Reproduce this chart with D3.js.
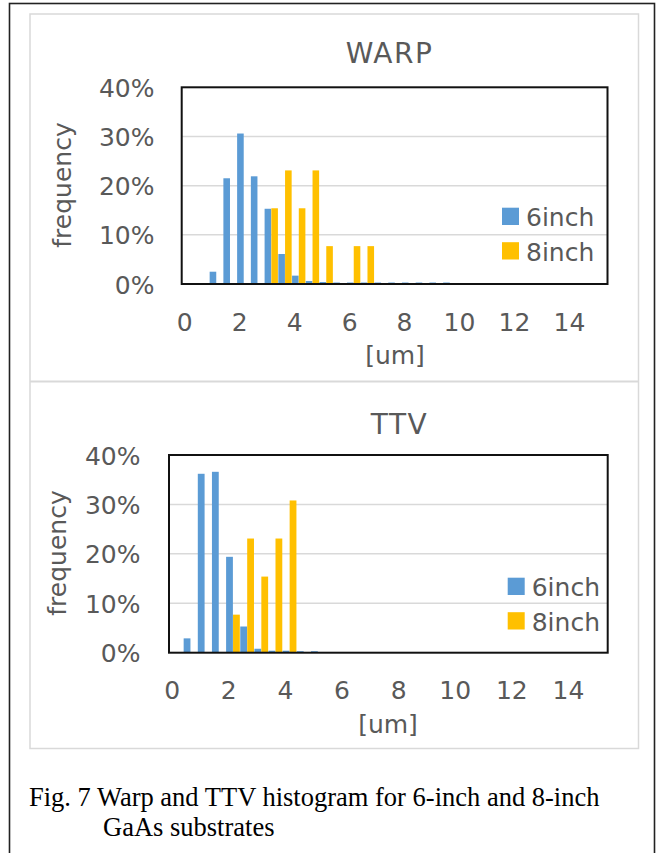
<!DOCTYPE html>
<html>
<head>
<meta charset="utf-8">
<script src="https://cdn.jsdelivr.net/npm/d3@7"></script>
<style>
  html, body { margin: 0; padding: 0; background: #fff; }
  svg { display: block; }
  .tick text { font-family: "DejaVu Sans", Verdana, sans-serif; }
</style>
</head>
<body>
<svg id="fig" width="658" height="853"></svg>
<script>
// Histogram bins (um), bin width 0.5
const binWidth = 0.5;
const seriesNames = ["6inch", "8inch"];
const seriesColors = ["#5B9BD5", "#FFC000"];
const xTickValues = [0, 2, 4, 6, 8, 10, 12, 14];
const yTickValues = [0, 0.1, 0.2, 0.3, 0.4];

// WARP distribution (frequency in %)
const warpBins = [1.0, 1.5, 2.0, 2.5, 3.0, 3.5, 4.0, 4.5, 5.0, 5.5, 6.0, 6.5, 7.0, 7.5, 8.0, 8.5, 9.0, 9.5];
const warp6inch = [2.5, 21.5, 30.6, 21.9, 15.3, 6.1, 1.7, 0.6, 0.4, 0.3, 0.3, 0.3, 0.3, 0.3, 0.3, 0.3, 0.3, 0.3];
const warp8inch = [0, 0, 0, 0, 15.4, 23.1, 15.4, 23.1, 7.7, 0, 7.7, 7.7, 0, 0, 0, 0, 0, 0];

// TTV distribution (frequency in %)
const ttvBins = [0.5, 1.0, 1.5, 2.0, 2.5, 3.0, 3.5, 4.0, 4.5, 5.0];
const ttv6inch = [2.9, 36.2, 36.6, 19.4, 5.3, 0.8, 0.4, 0.4, 0.3, 0.3];
const ttv8inch = [0, 0, 0, 7.7, 23.1, 15.4, 23.1, 30.8, 0, 0];

const FONT = "'DejaVu Sans', Verdana, sans-serif";
const TEXT = "#595959";

const svg = d3.select("#fig");

// outer page frame
svg.append("rect")
  .attr("x", 9.5).attr("y", 3.5).attr("width", 645).attr("height", 870)
  .attr("fill", "none").attr("stroke", "#222").attr("stroke-width", 1.6);

// chart containers
svg.append("rect")
  .attr("x", 30).attr("y", 14).attr("width", 608.5).attr("height", 734.5)
  .attr("fill", "#fff").attr("stroke", "#d9d9d9").attr("stroke-width", 1.5);
svg.append("line")
  .attr("x1", 30).attr("x2", 638.5).attr("y1", 381.5).attr("y2", 381.5)
  .attr("stroke", "#d9d9d9").attr("stroke-width", 2);

function drawChart(cfg) {
  const { left, right, top, bottom } = cfg.plot;
  const x = d3.scaleLinear().domain([-0.095, 15.405]).range([left, right]);
  const y = d3.scaleLinear().domain([0, 0.4]).range([bottom, top]);

  // clustered columns: pair of bars per bin, centred slightly right of the bin value
  const pairOffset = 0.165;
  const pairSpan = binWidth * 0.97;
  const sub = d3.scaleBand().domain(seriesNames)
    .range([0, x(pairSpan) - x(0)]).paddingInner(0.02);

  const g = svg.append("g");

  // gridlines
  g.append("g").selectAll("line")
    .data(yTickValues.filter(v => v > 0 && v < 0.4))
    .join("line")
    .attr("x1", left).attr("x2", right)
    .attr("y1", d => y(d)).attr("y2", d => y(d))
    .attr("stroke", "#d9d9d9").attr("stroke-width", 1.5);

  // bars
  const rows = cfg.bins.map((b, i) => ({ bin: b, values: [cfg.s6[i], cfg.s8[i]] }));
  const bars = [];
  rows.forEach(r => r.values.forEach((v, k) => {
    if (v > 0) bars.push({ bin: r.bin, series: seriesNames[k], value: v / 100, k });
  }));
  g.append("g").selectAll("rect")
    .data(bars)
    .join("rect")
    .attr("x", d => x(d.bin + pairOffset - pairSpan / 2) + sub(d.series))
    .attr("width", sub.bandwidth())
    .attr("y", d => y(d.value))
    .attr("height", d => y(0) - y(d.value))
    .attr("fill", d => seriesColors[d.k]);

  // plot frame
  g.append("rect")
    .attr("x", left).attr("y", top)
    .attr("width", right - left).attr("height", bottom - top)
    .attr("fill", "none").attr("stroke", "#111").attr("stroke-width", 2);

  // y axis
  const yAxis = g.append("g")
    .attr("transform", `translate(${cfg.yLabelRight},0)`)
    .call(d3.axisLeft(y).tickValues(yTickValues).tickFormat(d3.format(".0%")).tickSize(0).tickPadding(0));
  yAxis.select(".domain").remove();
  yAxis.selectAll("text")
    .attr("font-size", 25).attr("fill", TEXT).attr("dy", "0.36em");

  // x axis
  const xAxis = g.append("g")
    .attr("transform", `translate(0,${bottom})`)
    .call(d3.axisBottom(x).tickValues(xTickValues).tickFormat(d3.format("d")).tickSize(0).tickPadding(0));
  xAxis.select(".domain").remove();
  xAxis.selectAll("text")
    .attr("font-size", 25).attr("fill", TEXT)
    .attr("y", cfg.xLabelBaseline - bottom).attr("dy", 0);

  // titles
  g.append("text")
    .attr("x", cfg.titleX).attr("y", cfg.titleY)
    .attr("text-anchor", "middle")
    .attr("font-family", FONT).attr("font-size", 28).attr("letter-spacing", 1.5)
    .attr("fill", TEXT).text(cfg.title);

  g.append("text")
    .attr("x", cfg.xTitleX).attr("y", cfg.xTitleY)
    .attr("text-anchor", "middle")
    .attr("font-family", FONT).attr("font-size", 25)
    .attr("fill", TEXT).text("[um]");

  g.append("text")
    .attr("transform", `translate(${cfg.yTitleX},${cfg.yTitleY}) rotate(-90)`)
    .attr("text-anchor", "middle")
    .attr("font-family", FONT).attr("font-size", 25)
    .attr("fill", TEXT).text("frequency");

  // legend
  const lg = g.append("g").attr("transform", `translate(${cfg.legendX},${cfg.legendY})`);
  const item = lg.selectAll("g").data(seriesNames).join("g")
    .attr("transform", (d, i) => `translate(0,${i * 34.5})`);
  item.append("rect")
    .attr("x", 0).attr("y", 0).attr("width", 17).attr("height", 17.3)
    .attr("fill", (d, i) => seriesColors[i]);
  item.append("text")
    .attr("x", 24).attr("y", 18.5)
    .attr("font-family", FONT).attr("font-size", 25)
    .attr("fill", TEXT).text(d => d);
}

drawChart({
  title: "WARP",
  bins: warpBins, s6: warp6inch, s8: warp8inch,
  plot: { left: 181.7, right: 607.5, top: 87.3, bottom: 284 },
  yLabelRight: 154.5, xLabelBaseline: 331,
  titleX: 389.5, titleY: 62.7,
  xTitleX: 395, xTitleY: 364,
  yTitleX: 71, yTitleY: 185,
  legendX: 502, legendY: 207.7
});

drawChart({
  title: "TTV",
  bins: ttvBins, s6: ttv6inch, s8: ttv8inch,
  plot: { left: 169, right: 607.7, top: 455, bottom: 652.7 },
  yLabelRight: 140.5, xLabelBaseline: 699.3,
  titleX: 399.5, titleY: 434,
  xTitleX: 388, xTitleY: 733,
  yTitleX: 66, yTitleY: 553,
  legendX: 507.7, legendY: 577.7
});

// caption
const caption = svg.append("text")
  .attr("font-family", "'Liberation Serif', 'Times New Roman', serif")
  .attr("font-size", 26.5).attr("fill", "#000");
caption.append("tspan").attr("x", 29).attr("y", 806)
  .text("Fig. 7 Warp and TTV histogram for 6-inch and 8-inch");
caption.append("tspan").attr("x", 103).attr("y", 836)
  .text("GaAs substrates");
</script>
</body>
</html>
